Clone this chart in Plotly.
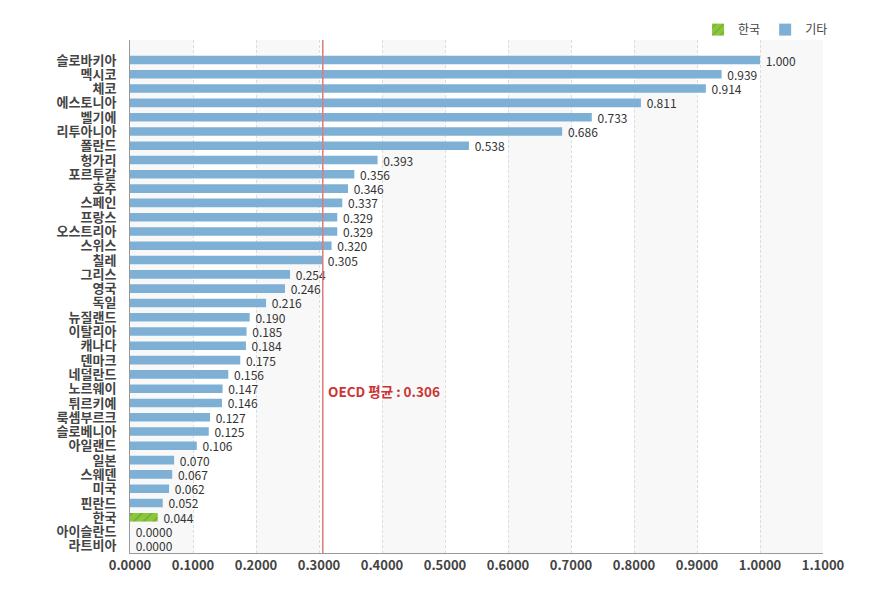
import plotly.graph_objects as go

countries = ["슬로바키아", "멕시코", "체코", "에스토니아", "벨기에", "리투아니아", "폴란드", "헝가리",
             "포르투갈", "호주", "스페인", "프랑스", "오스트리아", "스위스", "칠레", "그리스", "영국",
             "독일", "뉴질랜드", "이탈리아", "캐나다", "덴마크", "네덜란드", "노르웨이", "튀르키예",
             "룩셈부르크", "슬로베니아", "아일랜드", "일본", "스웨덴", "미국", "핀란드", "한국",
             "아이슬란드", "라트비아"]
values = [1.000, 0.939, 0.914, 0.811, 0.733, 0.686, 0.538, 0.393, 0.356, 0.346, 0.337, 0.329,
          0.329, 0.320, 0.305, 0.254, 0.246, 0.216, 0.190, 0.185, 0.184, 0.175, 0.156, 0.147,
          0.146, 0.127, 0.125, 0.106, 0.070, 0.067, 0.062, 0.052, 0.044, 0.0, 0.0]
highlight = "한국"
oecd_avg = 0.306
x_ticks = [0.0, 0.1, 0.2, 0.3, 0.4, 0.5, 0.6, 0.7, 0.8, 0.9, 1.0, 1.1]

FONT = "Noto Sans CJK KR"


def fmt(v):
    return " 0.0000" if v == 0 else f" {v:.3f}"


other_c = [c for c in countries if c != highlight]
other_v = [v for c, v in zip(countries, values) if c != highlight]
kor_v = [v for c, v in zip(countries, values) if c == highlight]

fig = go.Figure()
fig.add_trace(go.Bar(
    y=[highlight], x=kor_v, orientation="h", name="한국", width=0.6,
    text=[fmt(v) for v in kor_v], textposition="outside", cliponaxis=False,
    constraintext="none",
    textfont=dict(size=12, color="#333333"),
    marker=dict(color="#8cc63f", line=dict(width=0),
                pattern=dict(shape="/", fgcolor="#4e8a1e", bgcolor="#8cc63f", size=7, solidity=0.2)),
))
fig.add_trace(go.Bar(
    y=other_c, x=other_v, orientation="h", name="기타", width=0.6,
    text=[fmt(v) for v in other_v], textposition="outside", cliponaxis=False,
    constraintext="none",
    textfont=dict(size=12, color="#333333"),
    marker=dict(color="#7eb0d5", line=dict(width=0)),
))

shapes = []
for i in range(0, len(x_ticks) - 1, 2):
    shapes.append(dict(type="rect", xref="x", yref="paper", x0=x_ticks[i], x1=x_ticks[i + 1],
                       y0=0, y1=1, fillcolor="#f8f8f8", line=dict(width=0), layer="below"))
shapes.append(dict(type="line", xref="x", yref="paper", x0=oecd_avg, x1=oecd_avg, y0=0, y1=1,
                   line=dict(color="#e07b7b", width=1.5)))

fig.update_layout(
    width=887, height=593,
    margin=dict(l=122, r=72, t=32, b=48, autoexpand=False),
    plot_bgcolor="white", paper_bgcolor="white",
    font=dict(family=FONT, color="#333333"),
    barmode="overlay",
    showlegend=True,
    legend=dict(orientation="h", x=1.0145, xanchor="right", y=0.992, yanchor="bottom",
                font=dict(size=12, color="#444444"), traceorder="normal",
                itemwidth=30, bgcolor="rgba(0,0,0,0)"),
    shapes=shapes,
    annotations=[dict(x=oecd_avg, y=23, xref="x", yref="y", text="<b>OECD 평균 : 0.306</b>",
                      showarrow=False, xanchor="left", xshift=3, yshift=-2,
                      font=dict(size=13.5, color="#cc3333", family=FONT))],
    xaxis=dict(range=[0, 1.1], tickvals=x_ticks, tickformat=".4f",
               showgrid=True, gridcolor="#dddddd", griddash="3px,2px", gridwidth=1,
               showline=True, linecolor="#999999", linewidth=1, zeroline=False,
               tickfont=dict(size=13, color="#444444", weight="bold"), ticks="",
               layer="below traces"),
    yaxis=dict(categoryorder="array", categoryarray=countries, type="category",
               tickmode="array", tickvals=countries, ticktext=countries,
               range=[len(countries) - 0.5, -1.4],
               showline=True, linecolor="#999999", linewidth=1, showgrid=False,
               tickfont=dict(size=13, color="#444444", weight="bold"), ticks="",
               ticklabelstandoff=10),
)

fig.write_html("out.html")
